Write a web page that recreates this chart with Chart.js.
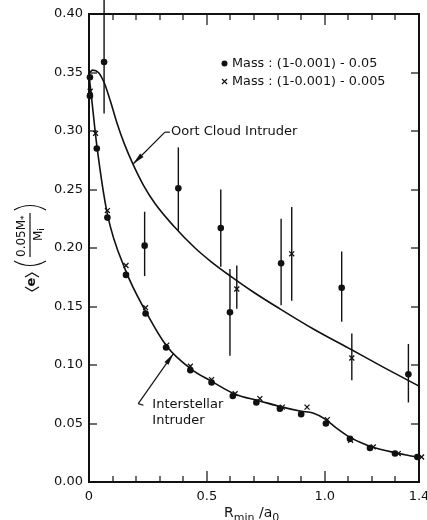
<!DOCTYPE html>
<html>
<head>
<meta charset="utf-8">
<script src="https://cdn.jsdelivr.net/npm/chart.js@4.4.1/dist/chart.umd.min.js"></script>
<style>
  html, body { margin: 0; padding: 0; background: #fff; }
</style>
</head>
<body>
<canvas id="chart" width="427" height="520"></canvas>
<script>
// ---- data ----
// smooth fitted curves
const oortCurveX = [0.000, 0.015, 0.040, 0.065, 0.090, 0.120, 0.150, 0.188, 0.230, 0.280, 0.358, 0.450, 0.520, 0.600, 0.700, 0.810, 0.950, 1.114, 1.250, 1.400];
const oortCurveY = [0.349, 0.352, 0.350, 0.341, 0.326, 0.306, 0.289, 0.271, 0.254, 0.238, 0.219, 0.200, 0.188, 0.176, 0.162, 0.148, 0.131, 0.113, 0.098, 0.082];

const interCurveX = [0.000, 0.010, 0.033, 0.078, 0.157, 0.240, 0.330, 0.430, 0.520, 0.620, 0.720, 0.820, 0.900, 0.950, 1.000, 1.050, 1.100, 1.150, 1.200, 1.300, 1.400];
const interCurveY = [0.348, 0.330, 0.288, 0.229, 0.180, 0.146, 0.116, 0.097, 0.086, 0.075, 0.0695, 0.064, 0.0605, 0.059, 0.054, 0.046, 0.039, 0.034, 0.030, 0.025, 0.021];

// Mass (1-0.001) - 0.05 : filled dots, interstellar runs
const dotX = [0.004, 0.004, 0.033, 0.078, 0.157, 0.240, 0.327, 0.430, 0.520, 0.610, 0.710, 0.810, 0.900, 1.005, 1.107, 1.192, 1.298, 1.393];
const dotY = [0.346, 0.330, 0.285, 0.226, 0.177, 0.144, 0.115, 0.0955, 0.085, 0.0735, 0.068, 0.0627, 0.058, 0.050, 0.037, 0.029, 0.0243, 0.0214];

// Mass (1-0.001) - 0.005 : crosses, interstellar runs
const crossX = [0.005, 0.028, 0.078, 0.157, 0.240, 0.330, 0.430, 0.520, 0.620, 0.725, 0.820, 0.925, 1.011, 1.110, 1.206, 1.312, 1.411];
const crossY = [0.334, 0.298, 0.232, 0.185, 0.149, 0.117, 0.099, 0.0875, 0.0755, 0.0713, 0.064, 0.064, 0.0533, 0.0356, 0.030, 0.0243, 0.0214];

// Oort cloud runs with error bars
const oortDotX  = [0.064, 0.236, 0.379, 0.559, 0.598, 0.815, 1.072, 1.355];
const oortDotY  = [0.359, 0.202, 0.251, 0.217, 0.145, 0.187, 0.166, 0.092];
const oortDotLo = [0.315, 0.176, 0.215, 0.184, 0.108, 0.151, 0.137, 0.068];
const oortDotHi = [0.415, 0.231, 0.286, 0.250, 0.182, 0.225, 0.197, 0.118];

const oortCrossX  = [0.627, 0.860, 1.115];
const oortCrossY  = [0.165, 0.195, 0.106];
const oortCrossLo = [0.148, 0.155, 0.087];
const oortCrossHi = [0.185, 0.235, 0.127];

// axis ticks
const xTickValues = [0, 0.5, 1.0, 1.4];
const xTickLabels = ['0', '0.5', '1.0', '1.4'];
const xMinorTicks = [0.1, 0.2, 0.3, 0.4, 0.6, 0.7, 0.8, 0.9, 1.1, 1.2, 1.3];
const yTickValues = [0, 0.05, 0.10, 0.15, 0.20, 0.25, 0.30, 0.35, 0.40];

const legendLabels = ['Mass : (1-0.001) - 0.05', 'Mass : (1-0.001) - 0.005'];

const INK = '#111';
const pts = (xs, ys) => xs.map((x, i) => ({ x: x, y: ys[i] }));

Chart.defaults.font.family = "'DejaVu Sans', sans-serif";
Chart.defaults.font.size = 13;
Chart.defaults.color = INK;

// error bars, drawn under the markers
const errorBars = {
  id: 'errorBars',
  beforeDatasetsDraw(chart) {
    const { ctx, scales: { x, y } } = chart;
    ctx.save();
    ctx.strokeStyle = INK;
    ctx.lineWidth = 1.4;
    chart.data.datasets.forEach(ds => {
      if (!ds.lo) return;
      ds.data.forEach((p, i) => {
        const px = x.getPixelForValue(p.x);
        ctx.beginPath();
        ctx.moveTo(px, y.getPixelForValue(ds.lo[i]));
        ctx.lineTo(px, y.getPixelForValue(ds.hi[i]));
        ctx.stroke();
      });
    });
    ctx.restore();
  }
};

function arrow(ctx, x0, y0, x1, y1) {
  const a = Math.atan2(y1 - y0, x1 - x0);
  const L = 12, W = 2.4;
  ctx.beginPath();
  ctx.moveTo(x0, y0);
  ctx.lineTo(x1, y1);
  ctx.stroke();
  ctx.beginPath();
  ctx.moveTo(x1, y1);
  ctx.lineTo(x1 - L * Math.cos(a) + W * Math.sin(a), y1 - L * Math.sin(a) - W * Math.cos(a));
  ctx.lineTo(x1 - L * Math.cos(a) - W * Math.sin(a), y1 - L * Math.sin(a) + W * Math.cos(a));
  ctx.closePath();
  ctx.fill();
}

// frame, inward ticks, axis titles, annotations and legend
const decorations = {
  id: 'decorations',
  afterDraw(chart) {
    const { ctx, scales: { x, y } } = chart;
    const L = Math.round(x.getPixelForValue(0)), R = Math.round(x.getPixelForValue(1.4));
    const T = Math.round(y.getPixelForValue(0.4)), B = Math.round(y.getPixelForValue(0));
    ctx.save();
    ctx.fillStyle = INK;
    ctx.strokeStyle = INK;
    // frame as solid bars
    ctx.fillRect(L - 1, T - 1, R - L + 2, 2);
    ctx.fillRect(L - 1, B - 1, R - L + 2, 2);
    ctx.fillRect(L - 1, T - 1, 2, B - T + 2);
    ctx.fillRect(R - 1, T - 1, 2, B - T + 2);
    // inward ticks
    xMinorTicks.concat(xTickValues).forEach(v => {
      const px = Math.round(x.getPixelForValue(v));
      const len = (v === 0.5 || v === 1.0) ? 11 : 6;
      ctx.fillRect(px - 0.6, B - len, 1.2, len);
      ctx.fillRect(px - 0.6, T, 1.2, len);
    });
    yTickValues.forEach(v => {
      const py = Math.round(y.getPixelForValue(v));
      ctx.fillRect(L, py - 0.6, 8, 1.2);
      ctx.fillRect(R - 8, py - 0.6, 8, 1.2);
    });

    // x title  R_min / a_0
    ctx.textBaseline = 'alphabetic';
    ctx.textAlign = 'left';
    let cx = 224;
    const part = (t, size, dy) => {
      ctx.font = size + "px 'DejaVu Sans'";
      ctx.fillText(t, cx, 517 + dy);
      cx += ctx.measureText(t).width;
    };
    part('R', 14, 0); part('min', 11, 4); part(' /', 14, 0); part('a', 14, 0); part('0', 11, 4);

    // y title  <e> (0.05M*/Mi), rotated
    ctx.save();
    ctx.translate(30, 243);
    ctx.rotate(-Math.PI / 2);
    ctx.lineWidth = 1.2;
    ctx.font = "bold 13px 'DejaVu Sans'";
    ctx.textAlign = 'center';
    ctx.textBaseline = 'middle';
    ctx.fillText('e', -39, 2);
    ctx.beginPath();
    ctx.moveTo(-44, -5); ctx.lineTo(-48, 2); ctx.lineTo(-44, 9);
    ctx.moveTo(-34, -5); ctx.lineTo(-30, 2); ctx.lineTo(-34, 9);
    ctx.stroke();
    ctx.beginPath();
    ctx.moveTo(-18, -16); ctx.quadraticCurveTo(-27, 0, -18, 16);
    ctx.moveTo(33, -16); ctx.quadraticCurveTo(42, 0, 33, 16);
    ctx.stroke();
    ctx.beginPath();
    ctx.moveTo(-14, 0); ctx.lineTo(30, 0);
    ctx.stroke();
    ctx.textAlign = 'left';
    ctx.font = "12px 'DejaVu Sans'";
    ctx.fillText('0.05M', -14, -8);
    let w = ctx.measureText('0.05M').width;
    ctx.font = "9px 'DejaVu Sans'";
    ctx.fillText('*', -14 + w, -5);
    ctx.font = "12px 'DejaVu Sans'";
    ctx.fillText('M', 2, 9);
    w = ctx.measureText('M').width;
    ctx.font = "9px 'DejaVu Sans'";
    ctx.fillText('i', 2 + w, 12);
    ctx.restore();

    // annotations
    ctx.lineWidth = 1.2;
    ctx.font = "13px 'DejaVu Sans'";
    ctx.textAlign = 'left';
    ctx.textBaseline = 'middle';
    const P = (vx, vy) => [x.getPixelForValue(vx), y.getPixelForValue(vy)];
    let s = P(0.322, 0.299), e = P(0.188, 0.272), d = P(0.343, 0.299);
    ctx.beginPath(); ctx.moveTo(s[0], s[1]); ctx.lineTo(d[0], d[1]); ctx.stroke();
    arrow(ctx, s[0], s[1], e[0], e[1]);
    let t = P(0.348, 0.2993);
    ctx.fillText('Oort Cloud Intruder', t[0], t[1]);
    s = P(0.209, 0.067); e = P(0.358, 0.1097); d = P(0.231, 0.0656);
    ctx.beginPath(); ctx.moveTo(s[0], s[1]); ctx.lineTo(d[0], d[1]); ctx.stroke();
    arrow(ctx, s[0], s[1], e[0], e[1]);
    t = P(0.2686, 0.0664);
    ctx.fillText('Interstellar', t[0], t[1]);
    t = P(0.2686, 0.0521);
    ctx.fillText('Intruder', t[0], t[1]);

    // legend
    ctx.font = "12.8px 'DejaVu Sans'";
    ctx.beginPath(); ctx.arc(224.5, 63.5, 3, 0, Math.PI * 2); ctx.fill();
    ctx.fillText(legendLabels[0], 232, 64);
    ctx.beginPath();
    ctx.moveTo(222, 79); ctx.lineTo(227, 84);
    ctx.moveTo(227, 79); ctx.lineTo(222, 84);
    ctx.stroke();
    ctx.fillText(legendLabels[1], 232, 82);
    ctx.restore();
  }
};

const dotStyle = { pointStyle: 'circle', pointRadius: 3.3, backgroundColor: INK, borderColor: INK, borderWidth: 0, clip: false };
const crossStyle = { pointStyle: 'crossRot', pointRadius: 3.5, borderColor: INK, borderWidth: 1.3, clip: false };
const curveStyle = { showLine: true, pointRadius: 0, borderColor: INK, borderWidth: 1.6, cubicInterpolationMode: 'monotone', fill: false };

new Chart(document.getElementById('chart').getContext('2d'), {
  type: 'scatter',
  data: {
    datasets: [
      Object.assign({ label: 'Oort Cloud Intruder', data: pts(oortCurveX, oortCurveY) }, curveStyle),
      Object.assign({ label: 'Interstellar Intruder', data: pts(interCurveX, interCurveY) }, curveStyle),
      Object.assign({ label: legendLabels[0], data: pts(dotX, dotY) }, dotStyle),
      Object.assign({ label: legendLabels[1], data: pts(crossX, crossY) }, crossStyle),
      Object.assign({ label: legendLabels[0] + ' (Oort)', data: pts(oortDotX, oortDotY), lo: oortDotLo, hi: oortDotHi }, dotStyle),
      Object.assign({ label: legendLabels[1] + ' (Oort)', data: pts(oortCrossX, oortCrossY), lo: oortCrossLo, hi: oortCrossHi }, crossStyle)
    ]
  },
  options: {
    responsive: false,
    animation: false,
    devicePixelRatio: 1,
    layout: { autoPadding: false, padding: { left: 0, top: 14, right: 8, bottom: 0 } },
    plugins: { legend: { display: false }, tooltip: { enabled: false } },
    scales: {
      x: {
        type: 'linear', min: 0, max: 1.4,
        grid: { display: false, drawTicks: false },
        border: { display: false },
        afterBuildTicks: s => { s.ticks = xTickValues.map(v => ({ value: v })); },
        afterFit: s => { s.height = 38; s.paddingLeft = 0; s.paddingRight = 0; },
        ticks: {
          padding: 7, maxRotation: 0, autoSkip: false,
          callback: v => xTickLabels[xTickValues.indexOf(v)]
        }
      },
      y: {
        type: 'linear', min: 0, max: 0.4,
        grid: { display: false, drawTicks: false },
        border: { display: false },
        afterBuildTicks: s => { s.ticks = yTickValues.map(v => ({ value: v })); },
        afterFit: s => { s.width = 89; s.paddingTop = 0; s.paddingBottom = 0; },
        ticks: { padding: 6, callback: v => v.toFixed(2) }
      }
    }
  },
  plugins: [errorBars, decorations]
});
</script>
</body>
</html>
